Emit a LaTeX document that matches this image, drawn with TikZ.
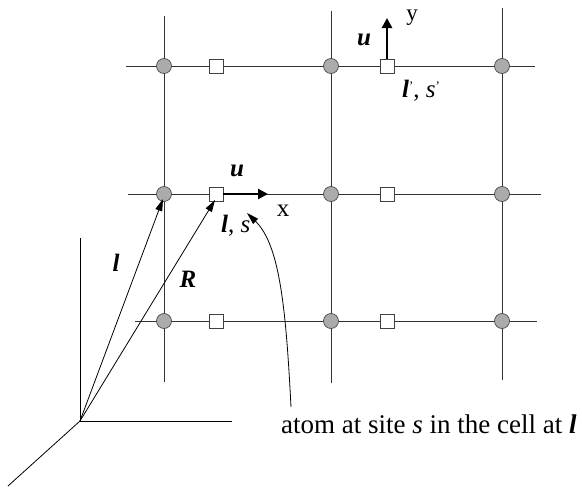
\documentclass[tikz,border=0pt]{standalone}
\usepackage{fontspec}
\setmainfont{Liberation Serif}
\usetikzlibrary{arrows.meta}
\begin{document}
\begin{tikzpicture}[x=1pt,y=-1pt,
  grid/.style={draw=black!80, line width=0.9pt},
  atomc/.style={circle, draw=black!70, fill=black!33, line width=0.7pt, minimum size=15pt, inner sep=0pt},
  atoms/.style={rectangle, draw=black!75, fill=white, line width=0.7pt, minimum size=14pt, inner sep=0pt},
  disp/.style={line width=2.6pt, -{Triangle[length=10pt,width=10pt]}},
  vec/.style={line width=0.8pt, -{Triangle[length=12pt,width=7pt]}},
  lbl/.style={inner sep=0pt, font=\fontsize{25}{29}\selectfont},
  axis/.style={line width=0.8pt}]
\useasboundingbox (0,0) rectangle (582,490);
% grid lines
\coordinate (v1t) at (164,16); \coordinate (v1b) at (164,382);
\coordinate (v2t) at (331,11); \coordinate (v2b) at (331,383);
\coordinate (v3t) at (502,8);  \coordinate (v3b) at (502,380);
\coordinate (h1l) at (126,66); \coordinate (h1r) at (535,66);
\coordinate (h2l) at (128,194); \coordinate (h2r) at (541,194);
\coordinate (h3l) at (135,321); \coordinate (h3r) at (537,321);
\draw[grid] (v1t) -- (v1b);
\draw[grid] (v2t) -- (v2b);
\draw[grid] (v3t) -- (v3b);
\draw[grid] (h1l) -- (h1r);
\draw[grid] (h2l) -- (h2r);
\draw[grid] (h3l) -- (h3r);
% atoms
\foreach \r/\y in {1/66,2/194,3/321}{
  \node[atomc] (c1\r) at (164,\y) {};
  \node[atomc] (c2\r) at (331,\y) {};
  \node[atomc] (c3\r) at (502,\y) {};
  \node[atoms] (s1\r) at (216,\y) {};
  \node[atoms] (s2\r) at (387,\y) {};
}
% displacements
\coordinate (uxend) at (268,194);
\coordinate (uyend) at (387,18);
\draw[disp] (s12.east) -- (uxend);
\draw[disp] (s21.north) -- (uyend);
\node[lbl] (ux) at (237,171) {\textbf{\textit{u}}};
\node[lbl] (uy) at (364,40) {\textbf{\textit{u}}};
\node[lbl, anchor=base] (xl) at (283,216) {x};
\node[lbl, anchor=base, font=\fontsize{23}{26}\selectfont] (yl) at (412,20) {y};
\node[lbl, anchor=west] (ls) at (221,226) {\textbf{\textit{l}}, \textit{s}};
\node[lbl, anchor=west] (lsp) at (402,91) {\textbf{\textit{l}}\raisebox{0.6ex}{\fontsize{13}{13}\selectfont ’}, \textit{s}\raisebox{0.6ex}{\fontsize{13}{13}\selectfont ’}};
% axes
\coordinate (O) at (80,421);
\coordinate (ax) at (232,421);
\coordinate (az) at (80,238);
\coordinate (ay) at (8,486);
\draw[axis] (O) -- (ax);
\draw[axis] (O) -- (az);
\draw[axis] (O) -- (ay);
% position vectors
\coordinate (ltip) at (163,199);
\coordinate (Rtip) at (215,200);
\draw[vec] (O) -- (ltip);
\draw[vec] (O) -- (Rtip);
\node[lbl] (ll) at (116,263) {\textbf{\textit{l}}};
\node[lbl] (Rl) at (188,279) {\textbf{\textit{R}}};
% caption and pointer
\node[inner sep=0pt, anchor=base west, font=\fontsize{27}{32}\selectfont] (cap) at (281,433) {atom at site \textit{s} in the cell at \textbf{\textit{l}}};
\coordinate (cs) at (291,407);
\coordinate (ce) at (247,213);
\draw[vec] (cs) .. controls (286,310) and (280,245) .. (ce);
\end{tikzpicture}
\end{document}
